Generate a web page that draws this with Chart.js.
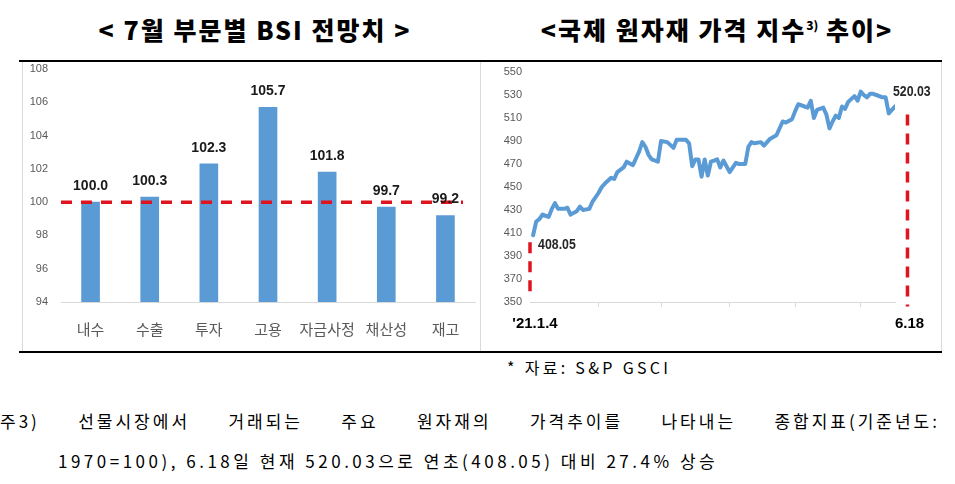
<!DOCTYPE html>
<html><head><meta charset="utf-8">
<script src="https://cdn.jsdelivr.net/npm/chart.js@4.4.1/dist/chart.umd.min.js"></script>
<style>
html,body{margin:0;padding:0;background:#fff;}
body{width:955px;height:484px;position:relative;overflow:hidden;font-family:'Noto Sans CJK KR',sans-serif;}
.abs{position:absolute;}
.title{font-weight:900;font-size:25px;color:#000;white-space:nowrap;transform:translateX(-50%);top:11px;letter-spacing:2px;}
.hline{background:#000;height:2px;left:19px;width:923px;}
.box{border:1px solid #d9d9d9;box-sizing:border-box;}
sup{font-size:12px;vertical-align:10px;line-height:0;letter-spacing:0;}
.src{left:507px;top:355px;font-size:16px;color:#000;white-space:nowrap;letter-spacing:3.3px;}
.note1{left:0px;width:940px;top:408px;font-size:17px;text-align:justify;text-align-last:justify;white-space:nowrap;letter-spacing:3px;}
.note2{left:58px;top:448px;font-size:17px;white-space:nowrap;letter-spacing:3.5px;}
</style></head><body>
<div class="abs title" style="left:255px;">&lt; 7월 부문별 BSI 전망치 &gt;</div>
<div class="abs title" style="left:717px;">&lt;국제 원자재 가격 지수<sup>3)</sup> 추이&gt;</div>
<div class="abs box" style="left:22px;top:61px;width:459px;height:291px;"></div>
<div class="abs box" style="left:480px;top:61px;width:462px;height:291px;"></div>
<div class="abs hline" style="top:60px;"></div>
<div class="abs hline" style="top:351px;"></div>
<canvas id="c1" class="abs" style="left:23px;top:62px;" width="456" height="288"></canvas>
<canvas id="c2" class="abs" style="left:481px;top:62px;" width="460" height="288"></canvas>
<div class="abs src">* 자료: S&amp;P GSCI</div>
<div class="abs note1">주3) 선물시장에서 거래되는 주요 원자재의 가격추이를 나타내는 종합지표(기준년도:</div>
<div class="abs note2">1970=100), 6.18일 현재 520.03으로 연초(408.05) 대비 27.4% 상승</div>
<script>
// ---- Data: BSI outlook by sector ----
const bsiCategories = ['내수', '수출', '투자', '고용', '자금사정', '채산성', '재고'];
const bsiValues = [100.0, 100.3, 102.3, 105.7, 101.8, 99.7, 99.2];
const bsiBaseline = 100;

// ---- Data: S&P GSCI (trading-day index from 2021-01-04) ----
const gsciDays = [1,2,3,4,5,6,7,8,9,10,11,12,13,15,16,17,19,20,22,23,24,26,27,28,30,31,33,34,35,36,37,38,39,41,42,44,46,47,48,50,51,52,53,54,55,56,57,58,59,60,61,62,63,64,66,67,69,70,71,72,74,75,77,79,81,82,84,85,86,88,89,90,91,92,94,95,96,97,98,99,100,101,102,104,105,106,107,108,109,110,111,113,114,115,116,117];
const gsciValues = [408.05,420,422,426,425,424,431,436,431,431,431,432,426,429,433,430,431,437,445,450,453,458,457,463,467,472,469,475,481,489,485,478,474,472,490,489,484,491,491,491,488,468,474,474,459,474,460,472,473,474,467,473,468,463,471,470,470,485,489,488,489,486,492,495,507,506,509,516,522,520,519,525,510,517,519,513,501,507,512,510,520,518,524,529,525,533,530,528,531,531,530,528,528,514,517,520.03];
const gsciMonthTicks = [22, 42, 64, 85, 106];
const gsciStartLabel = "'21.1.4";
const gsciEndLabel = '6.18';
const gsciEndDay = 121;          // position of the 6.18 marker
const gsciStartMarker = [0, 402, 356];   // [day, from value, to value]
const gsciEndMarker = [gsciEndDay, 513, 346];

Chart.defaults.font.family = "'Liberation Sans', 'Noto Sans CJK KR', sans-serif";
Chart.defaults.animation = false;

const RED = '#e0141e';
const BLUE = '#5b9bd5';
const GRAY = '#595959';

// ---------- Left chart ----------
const barLabelPlugin = {
  id: 'barLabels',
  afterDatasetsDraw(chart) {
    const ctx = chart.ctx;
    const y = chart.scales.y;
    const area = chart.chartArea;
    ctx.save();
    ctx.strokeStyle = RED;
    ctx.lineWidth = 3.5;
    ctx.setLineDash([11, 9]);
    const py = y.getPixelForValue(bsiBaseline);
    ctx.beginPath();
    ctx.moveTo(area.left, py);
    ctx.lineTo(area.right - 12, py);
    ctx.stroke();
    ctx.restore();
    const meta = chart.getDatasetMeta(0);
    ctx.save();
    ctx.font = "bold 14px 'Liberation Sans', sans-serif";
    ctx.fillStyle = '#1a1a1a';
    ctx.textAlign = 'center';
    ctx.textBaseline = 'middle';
    meta.data.forEach((bar, i) => {
      ctx.fillText(bsiValues[i].toFixed(1), bar.x, bar.y - 16);
    });
    ctx.restore();
  }
};

new Chart(document.getElementById('c1'), {
  type: 'bar',
  data: {
    labels: bsiCategories,
    datasets: [{ data: bsiValues, backgroundColor: BLUE, barThickness: 18, base: 94 }]
  },
  options: {
    responsive: false,
    layout: { padding: { top: 7, right: 4, left: 0, bottom: 0 } },
    plugins: { legend: { display: false }, tooltip: { enabled: false } },
    scales: {
      x: {
        grid: { display: false, drawTicks: false },
        border: { color: '#d9d9d9', width: 1 },
        ticks: { color: GRAY, padding: 18, font: { size: 15, family: "'Noto Sans CJK KR', sans-serif" }, maxRotation: 0, autoSkip: false },
        afterFit(s) { s.height = 48; s.paddingLeft = 0; s.paddingRight = 0; }
      },
      y: {
        min: 94, max: 108,
        grid: { display: false, drawTicks: false },
        border: { display: false },
        ticks: { stepSize: 2, color: GRAY, padding: 13, font: { size: 11 } },
        afterFit(s) { s.width = 38; s.paddingTop = 0; s.paddingBottom = 0; }
      }
    }
  },
  plugins: [barLabelPlugin]
});

// ---------- Right chart ----------
function narrowText(ctx, text, x, y, sx) {
  ctx.save();
  ctx.translate(x, y);
  ctx.scale(sx, 1);
  ctx.fillText(text, 0, 0);
  ctx.restore();
}

const lineAnnoPlugin = {
  id: 'lineAnno',
  afterDatasetsDraw(chart) {
    const ctx = chart.ctx;
    const xs = chart.scales.x, ys = chart.scales.y;
    ctx.save();
    ctx.strokeStyle = RED;
    ctx.lineWidth = 3.5;
    ctx.setLineDash([11, 8]);
    [gsciStartMarker, gsciEndMarker].forEach(m => {
      const px = xs.getPixelForValue(m[0]);
      ctx.beginPath();
      ctx.moveTo(px, ys.getPixelForValue(m[1]));
      ctx.lineTo(px, ys.getPixelForValue(m[2]));
      ctx.stroke();
    });
    ctx.restore();
    const meta = chart.getDatasetMeta(0);
    const first = meta.data[0], last = meta.data[meta.data.length - 1];
    ctx.save();
    ctx.font = "bold 15px 'Liberation Sans', sans-serif";
    ctx.fillStyle = '#262626';
    ctx.textBaseline = 'middle';
    ctx.textAlign = 'left';
    narrowText(ctx, gsciValues[0].toFixed(2), first.x + 5, first.y + 10, 0.82);
    narrowText(ctx, gsciValues[gsciValues.length - 1].toFixed(2), last.x - 2, last.y - 15, 0.82);
    ctx.fillStyle = '#000';
    ctx.textAlign = 'center';
    const ly = chart.chartArea.bottom + 22;
    ctx.fillText(gsciStartLabel, xs.getPixelForValue(gsciStartMarker[0]) + 5, ly);
    ctx.fillText(gsciEndLabel, xs.getPixelForValue(gsciEndDay) + 2, ly);
    ctx.restore();
  }
};

new Chart(document.getElementById('c2'), {
  type: 'line',
  data: {
    datasets: [{
      data: gsciDays.map((d, i) => ({ x: d, y: gsciValues[i] })),
      borderColor: BLUE, borderWidth: 4, pointRadius: 0, tension: 0,
      borderJoinStyle: 'round', borderCapStyle: 'round'
    }]
  },
  options: {
    responsive: false,
    layout: { padding: { top: 10, right: 46, left: 0, bottom: 0 } },
    plugins: { legend: { display: false }, tooltip: { enabled: false } },
    scales: {
      x: {
        type: 'linear', min: 0, max: 117,
        afterBuildTicks(s) { s.ticks = gsciMonthTicks.map(v => ({ value: v })); },
        grid: { drawOnChartArea: false, drawTicks: true, tickLength: 5, color: '#d9d9d9' },
        border: { color: '#d9d9d9', width: 1 },
        ticks: { callback: () => '', padding: 0 },
        afterFit(s) { s.height = 48; s.paddingLeft = 0; s.paddingRight = 0; }
      },
      y: {
        min: 350, max: 550,
        grid: { display: false, drawTicks: false },
        border: { display: false },
        ticks: { stepSize: 20, color: GRAY, padding: 8, font: { size: 11 } },
        afterFit(s) { s.width = 49; s.paddingTop = 0; s.paddingBottom = 0; }
      }
    }
  },
  plugins: [lineAnnoPlugin]
});
</script>
</body></html>
